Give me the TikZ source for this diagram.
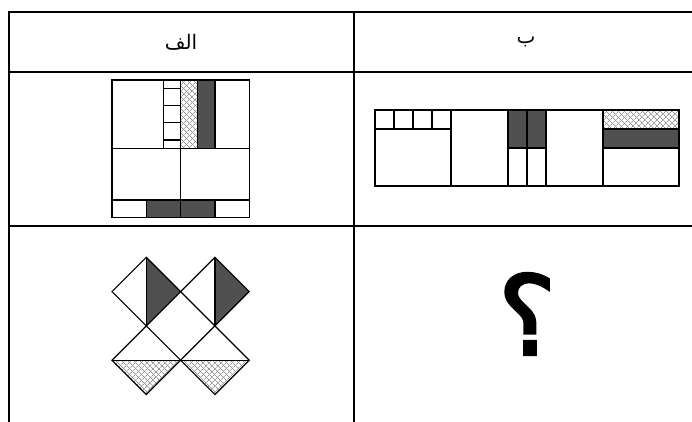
\documentclass[tikz,border=0pt]{standalone}
\usepackage{fontspec}
\newfontfamily\arabicfont[Script=Arabic]{DejaVu Sans}
\newfontfamily\qmarkfont[Script=Arabic,FakeBold=2.5]{DejaVu Sans}
\TeXXeTstate=1
\usetikzlibrary{patterns.meta}
\definecolor{darkfill}{RGB}{80,80,80}
\definecolor{hatchgray}{RGB}{150,150,150}
\tikzset{
  tableline/.style={line width=2pt},
  figline/.style={line width=1.2pt, line join=miter},
  darkpart/.style={fill=darkfill},
  hatchA/.style={pattern={Lines[angle=45,distance=4pt,line width=0.8pt]}, pattern color=hatchgray},
  hatchB/.style={pattern={Lines[angle=-45,distance=4pt,line width=0.8pt]}, pattern color=hatchgray},
  headtext/.style={font=\arabicfont\fontsize{20}{24}\selectfont, inner sep=0pt},
}
\newcommand{\hatchfill}[1]{\fill[hatchA] #1; \fill[hatchB] #1;}
\begin{document}
\begin{tikzpicture}[x=1pt,y=-1pt]
\useasboundingbox (0,0) rectangle (692,422);
\fill[white] (0,0) rectangle (692,422);
% table grid
\draw[tableline] (8.5,422) -- (8.5,12) -- (692,12);
\draw[tableline] (8.5,72.5) -- (692,72.5);
\draw[tableline] (8.5,225.7) -- (692,225.7);
\draw[tableline] (353.7,12) -- (353.7,422);
% headers
\node[headtext] (hA) at (181,42) {\beginR الف\endR};
\node[headtext] (hB) at (526,42) {\beginR ب\endR};
% figure A
\begin{scope}[shift={(112,80)}, x=17.15pt, y=-17.15pt]
  \hatchfill{(4,0) rectangle (5,4)}
  \fill[darkpart] (5,0) rectangle (6,4);
  \fill[darkpart] (2,7) rectangle (6,8);
  \draw[figline] (0,0) rectangle (8,8);
  \draw[figline] (3,0) -- (3,4) (4,0) -- (4,8) (5,0) -- (5,4) (6,0) -- (6,4);
  \draw[figline] (0,4) -- (8,4) (0,7) -- (8,7);
  \draw[figline] (2,7) -- (2,8) (6,7) -- (6,8);
  \foreach \r in {0.5,1.5,2.5,3.5} \draw[figline] (3,\r) -- (4,\r);
\end{scope}
% figure B
\begin{scope}[shift={(375,110)}, x=19pt, y=-19pt]
  \hatchfill{(12,0) rectangle (16,1)}
  \fill[darkpart] (12,1) rectangle (16,2);
  \fill[darkpart] (7,0) rectangle (9,2);
  \draw[figline] (0,0) rectangle (16,4);
  \foreach \c in {4,7,8,9,12} \draw[figline] (\c,0) -- (\c,4);
  \draw[figline] (0,1) -- (4,1);
  \foreach \c in {1,2,3} \draw[figline] (\c,0) -- (\c,1);
  \draw[figline] (7,2) -- (9,2);
  \draw[figline] (12,1) -- (16,1) (12,2) -- (16,2);
\end{scope}
% figure C
\begin{scope}[shift={(112,257.3)}, x=17.15pt, y=-17.15pt]
  \foreach \cx in {2,6} {
    \fill[darkpart] (\cx,0) -- (\cx+2,2) -- (\cx,4) -- cycle;
    \draw[figline] (\cx,0) -- (\cx+2,2) -- (\cx,4) -- (\cx-2,2) -- cycle;
    \draw[figline] (\cx,0) -- (\cx,4);
    \hatchfill{(\cx-2,6) -- (\cx,8) -- (\cx+2,6) -- cycle}
    \draw[figline] (\cx,4) -- (\cx+2,6) -- (\cx,8) -- (\cx-2,6) -- cycle;
    \draw[figline] (\cx-2,6) -- (\cx+2,6);
  }
\end{scope}
% question mark
\node[inner sep=0pt, font=\qmarkfont\fontsize{110}{110}\selectfont] (q) at (527,314) {؟};
\end{tikzpicture}
\end{document}
